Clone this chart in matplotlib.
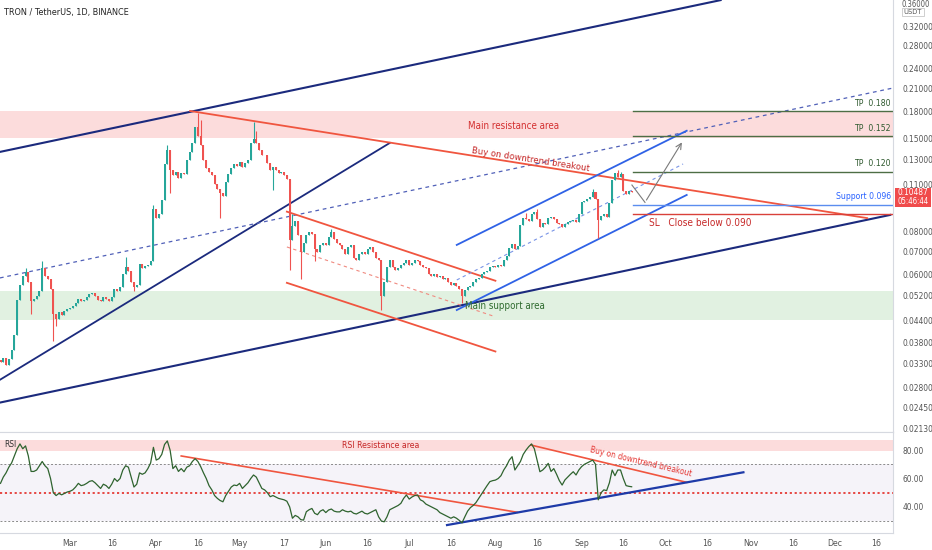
import datetime as dt
import numpy as np
import matplotlib
matplotlib.use("Agg")
import matplotlib.pyplot as plt
from matplotlib.patches import Rectangle

plt.rcParams['font.family'] = ['DejaVu Sans']
plt.rcParams['font.stretch'] = 'condensed'

# ---- data (TRX/USDT daily) ----
start = dt.date(2021, 2, 4)
first_open = 0.0338
closes = [
    0.0333, 0.0342, 0.0327, 0.0340, 0.0360, 0.0400, 0.0505, 0.0560, 0.0595, 0.0610,
    0.0570, 0.0500, 0.0510, 0.0520, 0.0535, 0.0625, 0.0595, 0.0580, 0.0545, 0.0460,
    0.0445, 0.0465, 0.0455, 0.0470, 0.0475, 0.0480, 0.0485, 0.0495, 0.0510, 0.0500,
    0.0505, 0.0515, 0.0525, 0.0530, 0.0520, 0.0505, 0.0500, 0.0515, 0.0510, 0.0500,
    0.0515, 0.0545, 0.0535, 0.0550, 0.0600, 0.0630, 0.0615, 0.0570, 0.0550, 0.0560,
    0.0645, 0.0625, 0.0635, 0.0640, 0.0655, 0.0930, 0.0880, 0.0900, 0.0990, 0.1265,
    0.1390, 0.1210, 0.1170, 0.1200, 0.1150, 0.1190, 0.1180, 0.1300, 0.1370, 0.1450,
    0.1620, 0.1530, 0.1435, 0.1300, 0.1230, 0.1200, 0.1170, 0.1105, 0.1070, 0.1040,
    0.1020, 0.1120, 0.1180, 0.1230, 0.1260, 0.1250, 0.1280, 0.1240, 0.1270, 0.1300,
    0.1450, 0.1490, 0.1450, 0.1390, 0.1340, 0.1340, 0.1270, 0.1210, 0.1240, 0.1210,
    0.1190, 0.1200, 0.1170, 0.1140, 0.0757, 0.0830, 0.0860, 0.0780, 0.0700, 0.0740,
    0.0780, 0.0800, 0.0790, 0.0710, 0.0700, 0.0730, 0.0740, 0.0730, 0.0770, 0.0800,
    0.0760, 0.0740, 0.0730, 0.0710, 0.0690, 0.0720, 0.0730, 0.0670, 0.0660, 0.0690,
    0.0700, 0.0690, 0.0710, 0.0720, 0.0700, 0.0670, 0.0660, 0.0520, 0.0570, 0.0630,
    0.0660, 0.0630, 0.0620, 0.0625, 0.0640, 0.0650, 0.0660, 0.0640, 0.0650, 0.0660,
    0.0655, 0.0640, 0.0630, 0.0625, 0.0600, 0.0595, 0.0600, 0.0590, 0.0595, 0.0580,
    0.0585, 0.0570, 0.0560, 0.0565, 0.0555, 0.0545, 0.0520, 0.0540, 0.0550, 0.0555,
    0.0570, 0.0580, 0.0585, 0.0600, 0.0610, 0.0615, 0.0630, 0.0635, 0.0630, 0.0640,
    0.0635, 0.0660, 0.0680, 0.0715, 0.0735, 0.0710, 0.0725, 0.0835, 0.0880, 0.0870,
    0.0860, 0.0900, 0.0915, 0.0870, 0.0825, 0.0850, 0.0845, 0.0880, 0.0885, 0.0870,
    0.0850, 0.0845, 0.0825, 0.0840, 0.0855, 0.0860, 0.0865, 0.0855, 0.0900, 0.0980,
    0.0985, 0.1000, 0.1010, 0.1045, 0.1000, 0.0865, 0.0890, 0.0900, 0.0885, 0.0970,
    0.1130, 0.1190, 0.1160, 0.1180, 0.1050, 0.1035, 0.1050, 0.10487,
]
# visible wick extremes (candle index -> price)
wick_high = {9: 0.0625, 15: 0.0655, 45: 0.0675, 55: 0.0960, 60: 0.1435, 71: 0.1780,
             72: 0.1700, 91: 0.1680, 92: 0.1580, 105: 0.0900, 119: 0.0815, 189: 0.0905,
             193: 0.0935, 213: 0.1065, 222: 0.1210, 223: 0.1200}
wick_low = {11: 0.0460, 19: 0.0384, 20: 0.0425, 48: 0.0535, 61: 0.1040, 79: 0.0876,
            98: 0.1060, 104: 0.0618, 108: 0.0580, 113: 0.0655, 137: 0.0472, 166: 0.0495,
            215: 0.0768}

rsi = [
    56.6, 61, 64, 68, 71, 76, 81, 84.4, 81, 83,
    76, 65, 65, 66, 69, 72, 69, 67, 60, 50,
    48, 49.5, 48.5, 49.5, 50.5, 51, 52, 54, 56.6, 55,
    55.5, 56.6, 58, 58.5, 57, 55, 53, 56, 55, 53,
    56, 60, 58, 60, 66, 69, 68, 61, 54, 56,
    64, 63, 64, 67, 71, 82, 73, 74, 77, 84,
    86.5, 80, 67, 69, 65, 67, 64.8, 68, 69, 72,
    74, 72, 68.4, 64, 60, 55, 52, 48, 46, 44.5,
    43.6, 48, 51, 54, 55.4, 55, 56.6, 53, 55, 57,
    60, 62.5, 61, 57, 53, 52, 50, 47.2, 48, 47,
    46, 45.5, 45, 44, 40, 32, 34, 33, 31, 30.7,
    36.6, 38, 38.9, 35.5, 34.5, 37, 38, 36, 37.8, 38.5,
    37, 36.5, 36.5, 38, 37, 36.5, 37, 35.5, 35, 36,
    37, 35.5, 35, 36, 37, 38, 33, 30, 29.5, 33,
    38, 39, 40, 41, 42.5, 46, 48.4, 45.5, 47, 48,
    48.4, 45, 44, 42, 41, 40, 39, 38, 36, 35,
    34, 33, 32, 33, 32, 30.5, 28.8, 33, 37, 39.5,
    41, 43, 46, 49, 52, 55, 57.8, 58.5, 58.9, 60,
    62, 66, 69, 73, 75.4, 66, 69, 72, 77, 80,
    82.5, 84.4, 81, 73, 64.8, 66, 68, 70.7, 65, 67,
    63, 58.5, 55.4, 59, 61, 63, 64.8, 62.5, 66, 68.4,
    70, 71, 72, 73, 70, 45, 50, 52, 51.5, 57,
    66, 62, 66, 66, 60, 55, 54.5, 54.2,
]

price_ticks = [0.32, 0.28, 0.24, 0.21, 0.18, 0.15, 0.13, 0.11, 0.08, 0.07, 0.06,
               0.052, 0.044, 0.038, 0.033, 0.028, 0.0245, 0.0213]
rsi_ticks = [80, 60, 40]
month_ticks = [("2021-03-01", "Mar"), ("2021-03-16", "16"), ("2021-04-01", "Apr"),
               ("2021-04-16", "16"), ("2021-05-01", "May"), ("2021-05-17", "17"),
               ("2021-06-01", "Jun"), ("2021-06-16", "16"), ("2021-07-01", "Jul"),
               ("2021-07-16", "16"), ("2021-08-01", "Aug"), ("2021-08-16", "16"),
               ("2021-09-01", "Sep"), ("2021-09-16", "16"), ("2021-10-01", "Oct"),
               ("2021-10-16", "16"), ("2021-11-01", "Nov"), ("2021-11-16", "16"),
               ("2021-12-01", "Dec"), ("2021-12-16", "16")]

resistance_zone = (0.150, 0.180)
support_zone = (0.0441, 0.0535)
tp_levels = [0.180, 0.152, 0.120]
support_level = 0.096
sl_level = 0.090
last_price = 0.10487
rsi_zone = (79.5, 87)

# drawings: (candle index, price)
navy_upper = [(-0.2, 0.137), (259, 0.381)]
navy_lower = [(-0.2, 0.0253), (320, 0.0896)]
navy_inner = [(-0.2, 0.0295), (140, 0.1455)]
navy_dashed = [(-0.2, 0.0586), (321, 0.2107)]
red_downtrend = [(68.2, 0.1805), (311.7, 0.0877)]
red_channel_top = [(103, 0.0916), (178, 0.0575)]
red_channel_mid = [(103, 0.0722), (178, 0.0451)]
red_channel_bot = [(103, 0.0567), (178, 0.0357)]
blue_channel_top = [(164.1, 0.0732), (246.8, 0.1580)]
blue_channel_mid = [(164.1, 0.0578), (245.5, 0.1263)]
blue_channel_bot = [(164.1, 0.0472), (246.8, 0.1025)]
projection = [(227.1, 0.1096), (231.8, 0.0975), (245.6, 0.1484)]
level_start = 227.5

rsi_red_left = [(65.0, 75.9), (185.9, 36.2)]
rsi_red_right = [(190.8, 83.6), (246.8, 57.3)]
rsi_blue = [(160.6, 27.2), (267.2, 64.4)]

GREEN = '#26a69a'
RED = '#ef5350'
NAVY = '#1b2a7d'
CH_RED = '#f0553f'
CH_BLUE = '#2f62e6'
AXC = '#555555'


def line(ax, pts, **kw):
    xs, ys = zip(*pts)
    ax.plot(xs, ys, **kw)


fig = plt.figure(figsize=(9.32, 5.5), dpi=100)
W, H = 932, 550
ax = fig.add_axes([0, (H - 432) / H, 893 / W, 432 / H])
ax2 = fig.add_axes([0, (H - 533) / H, 893 / W, 101 / H], sharex=ax)

xmin, xmax = -0.18, 321.0
n = len(closes)
x = np.arange(n)
c = np.array(closes)
o = np.r_[first_open, c[:-1]]
hi = np.maximum(o, c)
lo = np.minimum(o, c)
for k, v in wick_high.items():
    hi[k] = v
for k, v in wick_low.items():
    lo[k] = v
cols = np.where(c >= o, GREEN, RED)

# zones
ax.axhspan(*resistance_zone, color='#fcdcdc', lw=0, zorder=0)
ax.axhspan(*support_zone, color='#e1f1e1', lw=0, zorder=0)

ax.vlines(x, lo, hi, colors=cols, lw=0.8, zorder=3)
ax.bar(x, np.abs(c - o), bottom=np.minimum(o, c), width=0.72, color=cols, lw=0, zorder=3)

# trend lines
line(ax, navy_upper, color=NAVY, lw=1.5, zorder=2)
line(ax, navy_lower, color=NAVY, lw=1.5, zorder=2)
line(ax, navy_inner, color=NAVY, lw=1.3, zorder=2)
line(ax, navy_dashed, color='#5060b8', lw=0.9, ls=(0, (3, 3)), zorder=2)
line(ax, red_downtrend, color=CH_RED, lw=1.3, zorder=2)
line(ax, red_channel_top, color=CH_RED, lw=1.3, zorder=2)
line(ax, red_channel_bot, color=CH_RED, lw=1.3, zorder=2)
line(ax, red_channel_mid, color='#f08a80', lw=0.8, ls=(0, (3, 3)), zorder=2)
line(ax, blue_channel_top, color=CH_BLUE, lw=1.3, zorder=2)
line(ax, blue_channel_bot, color=CH_BLUE, lw=1.3, zorder=2)
line(ax, blue_channel_mid, color='#7893e6', lw=0.8, ls=(0, (3, 3)), zorder=2)
line(ax, projection[:2], color='#7a7a7a', lw=0.8, zorder=4)
ax.annotate('', xy=projection[2], xytext=projection[1],
            arrowprops=dict(arrowstyle='->', color='#7a7a7a', lw=0.8), zorder=4)

# levels
for tp in tp_levels:
    ax.plot([level_start, xmax], [tp, tp], color='#4d6e45', lw=1.0, zorder=2)
    ax.annotate('TP  %.3f' % tp, xy=(xmax, tp), xytext=(-2, 2.5), textcoords='offset points',
                ha='right', va='bottom', fontsize=6.2, color='#2f5a2f')
ax.plot([level_start, xmax], [support_level] * 2, color='#5b8def', lw=1.0, zorder=2)
ax.annotate('Support %.3f' % support_level, xy=(xmax, support_level), xytext=(-1, 2.5),
            textcoords='offset points', ha='right', va='bottom', fontsize=6.2, color='#2962ff')
ax.plot([level_start, xmax], [sl_level] * 2, color='#d9413a', lw=1.0, zorder=2)
ax.annotate('SL   Close below %.3f' % sl_level, xy=(233.3, sl_level), xytext=(0, -3),
            textcoords='offset points', ha='left', va='top', fontsize=7.2, color='#c62828')

ax.text(184.4, 0.1631, 'Main resistance area', ha='center', va='center', fontsize=7,
        color='#d32f2f', zorder=5)
ax.text(181.5, 0.0485, 'Main support area', ha='center', va='center', fontsize=7,
        color='#2e6b2e', zorder=5)
ax.text(190.5, 0.1297, 'Buy on downtrend breakout', ha='center', va='center', fontsize=6.8,
        color='#c62828', rotation=-8.8, rotation_mode='anchor', zorder=5)

ax.set_yscale('log')
ax.set_ylim(0.02075, 0.3813)
ax.set_xlim(xmin, xmax)
ax.yaxis.tick_right()
ax.set_yticks(price_ticks)
ax.set_yticklabels(['%.5f' % p for p in price_ticks])
ax.yaxis.set_minor_locator(matplotlib.ticker.NullLocator())
ax.tick_params(axis='y', length=0, pad=7, labelsize=6, labelcolor=AXC)
ax.tick_params(axis='x', length=0, labelbottom=False)
for s in ['left', 'top']:
    ax.spines[s].set_visible(False)
ax.spines['right'].set_color('#d6d9e0')
ax.spines['bottom'].set_color('#e3e5ea')

# RSI pane
ax2.axhspan(30, 70, color='#f5f3f9', lw=0, zorder=0)
ax2.axhspan(*rsi_zone, color='#fcdcdc', lw=0, zorder=0)
for lvl in (70, 30):
    ax2.axhline(lvl, color='#8a8a8a', lw=0.7, ls=(0, (2, 2)), zorder=1)
ax2.axhline(50, color='#e53935', lw=1.3, ls=(0, (1.2, 1.5)), zorder=1)
ax2.plot(x, rsi, color='#2f632f', lw=0.9, zorder=3)
line(ax2, rsi_red_left, color=CH_RED, lw=1.2, zorder=2)
line(ax2, rsi_red_right, color=CH_RED, lw=1.2, zorder=2)
line(ax2, rsi_blue, color='#1e3aa8', lw=1.6, zorder=2)
ax2.text(136.9, 83.5, 'RSI Resistance area', ha='center', va='center', fontsize=6.3,
         color='#c62828')
ax2.text(230.4, 71.5, 'Buy on downtrend breakout', ha='center', va='center', fontsize=6,
         color='#e53935', rotation=-13.5, rotation_mode='anchor')
ax2.text(0.005, 0.88, 'RSI', transform=ax2.transAxes, fontsize=6, color='#333333',
         ha='left', va='center')
ax2.set_ylim(21.6, 92.8)
ax2.yaxis.tick_right()
ax2.set_yticks(rsi_ticks)
ax2.set_yticklabels(['%.2f' % v for v in rsi_ticks])
ax2.tick_params(axis='y', length=0, pad=7, labelsize=6, labelcolor=AXC)
tick_pos = [(dt.date.fromisoformat(d) - start).days for d, _ in month_ticks]
ax2.set_xticks(tick_pos)
ax2.set_xticklabels([lab for _, lab in month_ticks])
ax2.tick_params(axis='x', length=0, pad=4, labelsize=6.3, labelcolor=AXC)
ax2.spines['left'].set_visible(False)
for s in ['right', 'top', 'bottom']:
    ax2.spines[s].set_color('#d6d9e0')

# header and price box
fig.text(4 / W, 1 - 12 / H, 'TRON / TetherUS, 1D, BINANCE', fontsize=6.5, color='#222222',
         ha='left', va='center')
fig.text(902 / W, 1 - 4.5 / H, '0.36000', fontsize=5.5, color=AXC, ha='left', va='center')
fig.text(913 / W, 1 - 12 / H, 'USDT', fontsize=5.3, color=AXC, ha='center', va='center',
         bbox=dict(boxstyle='square,pad=0.2', fc='white', ec='#c8c8c8', lw=0.6))
fig.patches.append(Rectangle((895 / W, 1 - 207 / H), 36 / W, 19 / H, transform=fig.transFigure,
                             fc='#f04b4b', ec='none', zorder=10))
fig.text(913 / W, 1 - 193 / H, '%.5f' % last_price, fontsize=6, color='white',
         ha='center', va='center', zorder=11)
fig.text(913 / W, 1 - 202 / H, '05:46:44', fontsize=5.6, color='white', ha='center',
         va='center', zorder=11)

fig.savefig('out.png', dpi=100)
